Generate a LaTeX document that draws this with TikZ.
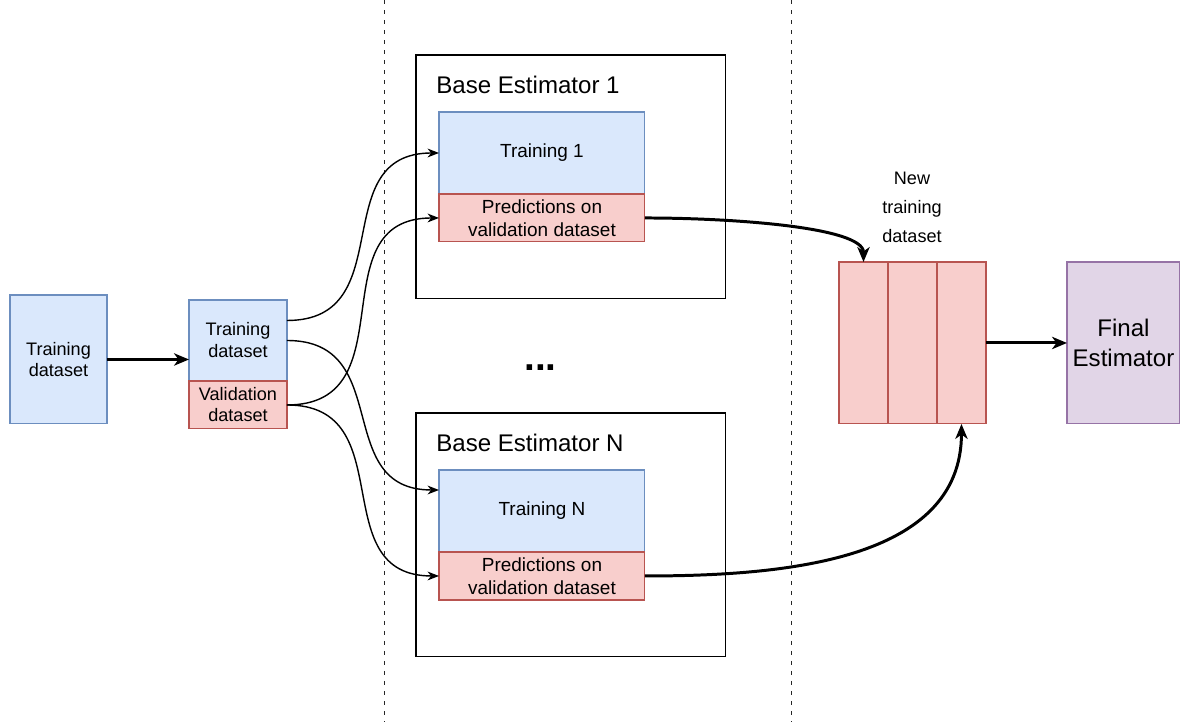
\documentclass[tikz,border=0pt]{standalone}
\usepackage{fontspec}
\setmainfont{Liberation Sans}
\usepackage{xcolor}
\usetikzlibrary{arrows.meta}
\definecolor{bfill}{HTML}{DAE8FC}
\definecolor{bline}{HTML}{6C8EBF}
\definecolor{rfill}{HTML}{F8CECC}
\definecolor{rline}{HTML}{B85450}
\definecolor{pfill}{HTML}{E1D5E7}
\definecolor{pline}{HTML}{9673A6}

\begin{document}
\begin{tikzpicture}[x=0.02cm, y=-0.02cm,
		box/.style={rectangle, anchor=north west, inner sep=0pt, outer sep=0pt, line width=0.6pt, align=center},
		bluebox/.style={box, draw=bline, fill=bfill},
		redbox/.style={box, draw=rline, fill=rfill},
		thinarr/.style={-{Stealth[length=6.5pt, width=5pt, inset=2pt]}, line width=0.8pt, looseness=1.3},
		bigarr/.style={-{Stealth[length=8.5pt, width=7pt, inset=2.5pt]}, line width=1.7pt},
		sep/.style={line width=0.55pt, black!85, dash pattern=on 2.3pt off 3.4pt}]
			\useasboundingbox (0,0) rectangle (1180,722);
			\draw[sep] (384,0) -- (384,722);
			\draw[sep] (791,0) -- (791,722);
			\node[bluebox, minimum width=1.94cm, minimum height=2.58cm, font=\fontsize{10.3}{12}\selectfont] (train) at (10,295) {Training\\dataset};
			\node[bluebox, minimum width=1.96cm, minimum height=1.62cm, font=\fontsize{10.3}{12.5}\selectfont] (splittr) at (189,300) {Training\\dataset};
			\node[redbox, minimum width=1.96cm, minimum height=0.96cm, font=\fontsize{10.3}{12}\selectfont] (splitval) at (splittr.south west) {Validation\\dataset};
			\node[box, draw=black, minimum width=6.2cm, minimum height=4.88cm] (est1) at (416,55) {};
			\node[anchor=west, inner sep=0pt, font=\fontsize{13.7}{16}\selectfont] (tit1) at (436,85) {Base Estimator 1};
			\node[bluebox, minimum width=4.12cm, minimum height=1.64cm, font=\fontsize{10.8}{13}\selectfont] (tr1) at (439,112) {Training 1};
			\node[redbox, minimum width=4.12cm, minimum height=0.96cm, font=\fontsize{10.8}{13}\selectfont] (pr1) at (tr1.south west) {Predictions on\\validation dataset};
			\node[box, draw=black, minimum width=6.2cm, minimum height=4.88cm] (estN) at (416,413) {};
			\node[anchor=west, inner sep=0pt, font=\fontsize{13.7}{16}\selectfont] (titN) at (436,443) {Base Estimator N};
			\node[bluebox, minimum width=4.12cm, minimum height=1.64cm, font=\fontsize{10.8}{13}\selectfont] (trN) at (439,470) {Training N};
			\node[redbox, minimum width=4.12cm, minimum height=0.96cm, font=\fontsize{10.8}{13}\selectfont] (prN) at (trN.south west) {Predictions on\\validation dataset};
			\node[anchor=base, inner sep=0pt, font=\bfseries\fontsize{22}{24}\selectfont] (dots) at (540.5,371) {...};
			\node[redbox, minimum width=0.98cm, minimum height=3.24cm] (col1) at (839,262) {};
			\node[redbox, minimum width=0.98cm, minimum height=3.24cm] (col2) at (col1.north east) {};
			\node[redbox, minimum width=0.98cm, minimum height=3.24cm] (col3) at (col2.north east) {};
			\node[align=center, inner sep=0pt, font=\fontsize{10.3}{16.5}\selectfont] (newlbl) at (912,207) {New\\training\\dataset};
			\node[box, draw=pline, fill=pfill, minimum width=2.26cm, minimum height=3.24cm, font=\fontsize{13.7}{17}\selectfont] (final) at (1067,262) {Final\\Estimator};
			\draw[bigarr] (train.east) -- (train.east -| splittr.west);
			\draw[thinarr] ([yshift=0.4cm]splittr.east) to[out=0, in=180] (tr1.west);
			\draw[thinarr] (splittr.east) to[out=0, in=180] ([yshift=0.42cm]trN.west);
			\draw[thinarr] (splitval.east) to[out=0, in=180] (pr1.west);
			\draw[thinarr] (splitval.east) to[out=0, in=180] (prN.west);
			\draw[bigarr] (pr1.east) to[out=0, in=90, in looseness=0.4] (col1.north);
			\draw[bigarr] (prN.east) to[out=0, in=-90] (col3.south);
			\draw[bigarr] (col3.east) -- (final.west);
		\end{tikzpicture}
\end{document}
